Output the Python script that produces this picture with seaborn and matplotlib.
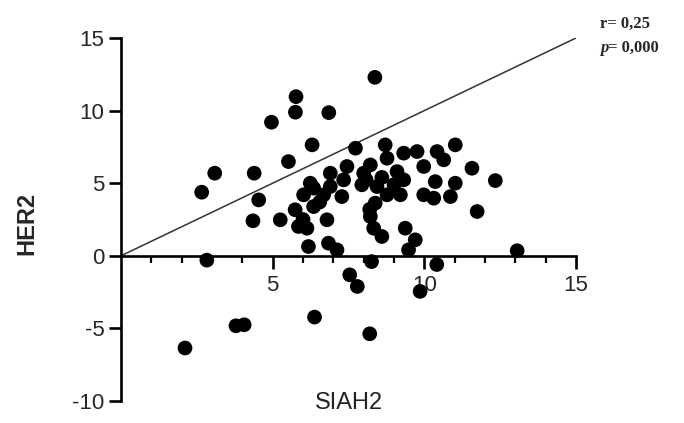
import numpy as np
import matplotlib
matplotlib.use("Agg")
import matplotlib.pyplot as plt
import seaborn as sns
import pandas as pd

# SIAH2 / HER2 values
siah2 = [8.37, 5.77, 5.75, 6.85, 4.96, 6.30, 7.73, 5.52, 3.09, 4.39, 2.66, 4.54, 4.35, 5.25,
         7.45, 6.90, 7.34, 6.24, 6.02, 6.68, 7.28, 6.90, 5.74, 6.35, 6.79, 5.85, 6.13,
         6.18, 6.84, 7.12, 6.35, 6.00, 6.55,
         8.71, 8.77, 9.32, 9.76, 9.98, 10.42, 10.64, 11.02, 11.57, 11.74, 8.22, 8.00, 7.94,
         8.44, 9.10, 9.32, 9.21, 8.77, 8.38, 8.22, 8.33, 8.60, 9.37, 9.70, 9.48, 10.36,
         9.98, 10.31, 11.02, 10.86, 12.34, 13.06, 8.08, 8.60, 9.00, 8.20,
         2.83, 8.26, 7.54, 7.79, 9.86, 10.41, 6.38, 3.79, 4.06, 8.20, 2.11]
her2 = [12.29, 10.96, 9.89, 9.86, 9.20, 7.64, 7.41, 6.49, 5.69, 5.69, 4.38, 3.85, 2.41, 2.48,
        6.15, 5.69, 5.23, 5.00, 4.20, 4.20, 4.08, 4.77, 3.17, 3.39, 2.48, 2.02, 1.90,
        0.64, 0.87, 0.41, 4.66, 2.50, 3.70,
        7.64, 6.72, 7.07, 7.18, 6.15, 7.18, 6.61, 7.64, 6.03, 3.05, 6.26, 5.69, 4.89,
        4.77, 5.80, 5.23, 4.20, 4.20, 3.63, 2.71, 1.90, 1.33, 1.90, 1.10, 0.41, 5.11,
        4.20, 3.97, 5.00, 4.08, 5.18, 0.35, 5.23, 5.40, 4.90, 3.20,
        -0.30, -0.40, -1.31, -2.11, -2.45, -0.60, -4.22, -4.82, -4.75, -5.37, -6.35]

line_x = [0, 15]
line_y = [0, 15]

df = pd.DataFrame({"SIAH2": siah2, "HER2": her2})

sns.set_style("ticks")
plt.rcParams['font.family'] = ['Liberation Sans', 'DejaVu Sans']
plt.rcParams['axes.unicode_minus'] = False

fig = plt.figure(figsize=(6.84, 4.23), dpi=100)
ax = fig.add_axes([121 / 684, 22 / 423, 455 / 684, 363 / 423])

sns.lineplot(x=line_x, y=line_y, ax=ax, color="#333333", linewidth=1.1)
sns.scatterplot(data=df, x="SIAH2", y="HER2", ax=ax, color="black", s=112,
                edgecolor="none", clip_on=False, zorder=3)

ax.set_xlim(0, 15)
ax.set_ylim(-10, 15)

ax.spines['right'].set_visible(False)
ax.spines['top'].set_visible(False)
ax.spines['bottom'].set_position(('data', 0))
for sp in ('left', 'bottom'):
    ax.spines[sp].set_linewidth(1.9)
    ax.spines[sp].set_color('black')

ax.set_xticks([5, 10, 15])
ax.set_xticks([i for i in range(1, 15) if i % 5 != 0], minor=True)
ax.set_yticks([-10, -5, 0, 5, 10, 15])
ax.tick_params(axis='x', which='major', length=9, width=1.9, labelsize=16, pad=5, color='black')
ax.tick_params(axis='x', which='minor', length=5, width=1.6, color='black')
ax.tick_params(axis='y', which='major', length=9, width=1.9, labelsize=16, pad=3, color='black')

ax.set_xlabel("SIAH2", fontsize=17, color="#222222", va="top")
ax.xaxis.set_label_coords(0.5, 0.025)
ax.set_ylabel("HER2", fontsize=17, fontweight="bold")
ax.yaxis.set_label_coords(-0.182, 0.49)

fig.text(600 / 684, 1 - 24 / 423, "r= 0,25", family="Liberation Serif",
         fontsize=12, fontweight="bold", va="center")
fig.text(600 / 684, 1 - 48 / 423, "p", family="Liberation Serif", style="italic",
         fontsize=12, fontweight="bold", va="center")
fig.text(608 / 684, 1 - 48 / 423, "= 0,000", family="Liberation Serif",
         fontsize=12, fontweight="bold", va="center")

fig.savefig("out.png", dpi=100)
